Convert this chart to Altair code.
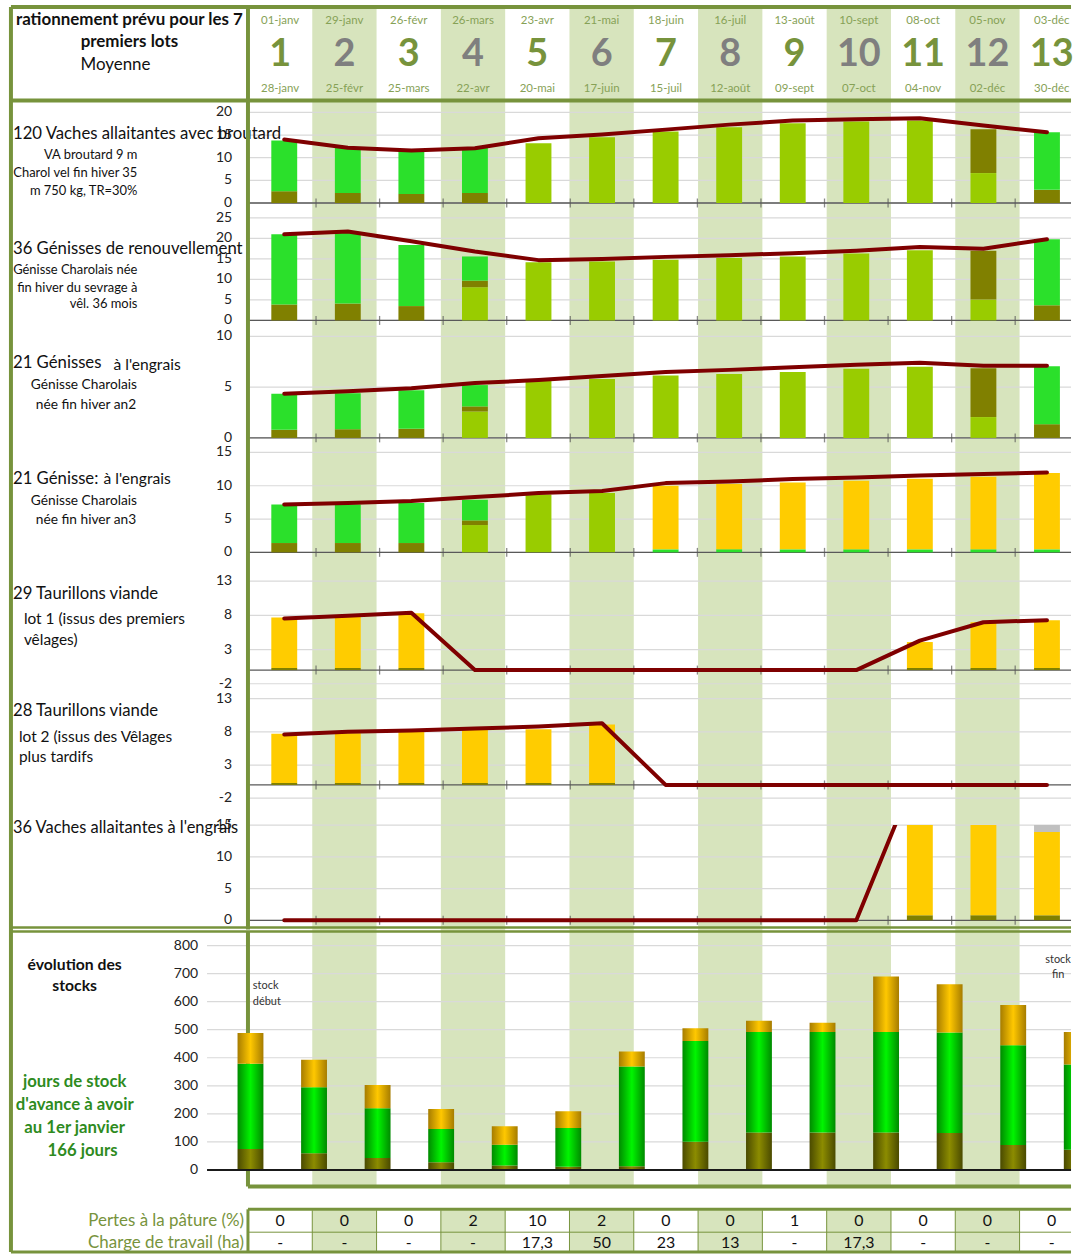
import altair as alt
import pandas as pd

# ---------------- calendar: 13 periods of 4 weeks ----------------
periodes = list(range(1, 14))
debut = ["01-janv", "29-janv", "26-févr", "26-mars", "23-avr", "21-mai", "18-juin",
         "16-juil", "13-août", "10-sept", "08-oct", "05-nov", "03-déc"]
fin = ["28-janv", "25-févr", "25-mars", "22-avr", "20-mai", "17-juin", "15-juil",
       "12-août", "09-sept", "07-oct", "04-nov", "02-déc", "30-déc"]

# ---------------- rations per batch (stack: herbe, foin, ensilage, maïs, autre) ----------------
va_herbe = [0, 0, 0, 0, 13.2, 14.5, 15.8, 16.7, 17.6, 18.0, 18.2, 6.6, 0]
va_foin = [2.6, 2.2, 2.0, 2.2, 0, 0, 0, 0, 0, 0, 0, 9.7, 2.9]
va_ens = [11.2, 10.1, 9.6, 10.1, 0, 0, 0, 0, 0, 0, 0, 0, 12.7]
va_besoin = [14.0, 12.2, 11.6, 12.1, 14.3, 15.1, 16.2, 17.3, 18.2, 18.5, 18.7, 17.1, 15.6]

gr_herbe = [0, 0, 0, 8.1, 14.2, 14.4, 14.8, 15.2, 15.6, 16.3, 17.1, 5.1, 0]
gr_foin = [3.9, 4.1, 3.5, 1.6, 0, 0, 0, 0, 0, 0, 0, 11.9, 3.7]
gr_ens = [17.1, 17.2, 14.9, 5.9, 0, 0, 0, 0, 0, 0, 0, 0, 16.1]
gr_besoin = [21.0, 21.7, 19.3, 16.8, 14.7, 15.0, 15.5, 15.9, 16.4, 17.0, 17.9, 17.5, 19.8]

g2_herbe = [0, 0, 0, 2.6, 5.6, 5.8, 6.15, 6.3, 6.5, 6.8, 7.0, 2.05, 0]
g2_foin = [0.8, 0.85, 0.9, 0.5, 0, 0, 0, 0, 0, 0, 0, 4.8, 1.35]
g2_ens = [3.55, 3.55, 3.8, 2.1, 0, 0, 0, 0, 0, 0, 0, 0, 5.7]
g2_besoin = [4.35, 4.6, 4.9, 5.4, 5.7, 6.1, 6.5, 6.7, 6.95, 7.2, 7.4, 7.1, 7.1]

g3_herbe = [0, 0, 0, 4.1, 8.7, 8.9, 0, 0, 0, 0, 0, 0, 0]
g3_foin = [1.4, 1.4, 1.4, 0.7, 0, 0, 0, 0, 0, 0, 0, 0, 0]
g3_ens = [5.8, 5.8, 6.0, 3.1, 0, 0, 0.45, 0.45, 0.45, 0.45, 0.45, 0.45, 0.45]
g3_mais = [0, 0, 0, 0, 0, 0, 9.55, 9.8, 10.05, 10.3, 10.6, 10.9, 11.45]
g3_besoin = [7.2, 7.4, 7.7, 8.3, 8.9, 9.2, 10.4, 10.65, 11.0, 11.25, 11.55, 11.75, 12.0]

t1_foin = [0.3, 0.3, 0.3, 0, 0, 0, 0, 0, 0, 0, 0.3, 0.3, 0.3]
t1_mais = [7.4, 7.5, 8.0, 0, 0, 0, 0, 0, 0, 0, 3.8, 6.7, 7.0]
t1_besoin = [7.55, 7.95, 8.4, 0, 0, 0, 0, 0, 0, 0, 4.3, 7.0, 7.3]

t2_foin = [0.3, 0.3, 0.3, 0.3, 0.3, 0.3, 0, 0, 0, 0, 0, 0, 0]
t2_mais = [7.4, 7.5, 7.7, 8.0, 8.1, 8.8, 0, 0, 0, 0, 0, 0, 0]
t2_besoin = [7.6, 8.0, 8.2, 8.5, 8.8, 9.3, 0, 0, 0, 0, 0, 0, 0]

ve_foin = [0, 0, 0, 0, 0, 0, 0, 0, 0, 0, 0.8, 0.8, 0.8]
ve_mais = [0, 0, 0, 0, 0, 0, 0, 0, 0, 0, 23.7, 24.2, 13.1]
ve_autre = [0, 0, 0, 0, 0, 0, 0, 0, 0, 0, 0, 0, 10.9]
ve_besoin = [0, 0, 0, 0, 0, 0, 0, 0, 0, 0, 24.5, 25.0, 24.8]

# ---------------- stocks (start of each period + end of year) ----------------
st_foin = [75, 60, 43, 28, 16, 12, 13, 101, 134, 134, 134, 132, 89, 72]
st_ens = [304, 235, 177, 118, 74, 138, 356, 359, 358, 358, 358, 358, 356, 304]
st_mais = [109, 98, 83, 71, 66, 59, 53, 45, 40, 33, 198, 172, 143, 116]

# ---------------- table ----------------
pertes = [0, 0, 0, 2, 10, 2, 0, 0, 1, 0, 0, 0, 0]
charge = ["-", "-", "-", "-", "17,3", "50", "23", "13", "-", "17,3", "-", "-", "-"]

# ---------------- style ----------------
FONT = "Lato"
NARROW = "Liberation Sans Narrow, Lato"
SHADE = "#D7E4BD"
FR = "#77933C"
GRID = "#D9D9D9"
AXIS = "#595959"
LINE = "#7F0000"
PARTS = ["herbe", "foin", "ensilage", "maïs", "autre"]
PART_COLORS = ["#99CC00", "#808000", "#2BE02B", "#FFCC00", "#C0C0C0"]
PART_SCALE = alt.Scale(domain=PARTS, range=PART_COLORS)

W = 868                  # plot width (px); x = 0 sits 41 px from the left edge
X1 = 12.8
X0 = X1 - W / 64.6
XZ = (0 - X0) / (X1 - X0) * W
XS = alt.Scale(domain=[X0, X1], nice=False, zero=False)
TOTAL_H = 1256
TITLE = 16.8


def XQ(field):
    return alt.X(f"{field}:Q", scale=XS, axis=None)


def one(s="x"):
    return pd.DataFrame({"t": [s]})


def txt(s, x, y, size=12, weight="normal", align="left", color="#111111", font=FONT, clip=False):
    return alt.Chart(one(s)).mark_text(
        align=align, baseline="middle", fontSize=size, fontWeight=weight,
        color=color, font=font, clip=clip
    ).encode(x=alt.value(x), y=alt.value(y), text="t:N")


def hline(x0, x1, y, color=FR, w=4):
    return alt.Chart(one()).mark_rule(color=color, strokeWidth=w).encode(
        x=alt.value(x0), x2=alt.value(x1), y=alt.value(y))


def vline(x, y0, y1, color=FR, w=4):
    return alt.Chart(one()).mark_rule(color=color, strokeWidth=w).encode(
        x=alt.value(x), y=alt.value(y0), y2=alt.value(y1))


def stack_frame(series, positions):
    rows = []
    for i, p in enumerate(positions):
        base = 0.0
        for name, vals in series:
            v = vals[i]
            if v > 0:
                rows.append({"c": p, "lo": base, "hi": base + v, "part": name})
            base += v
    return pd.DataFrame(rows)


centres = [p - 0.5 for p in periodes]


def panel(h, dom, ticks, series, besoin, texts, clip=False):
    ys = alt.Scale(domain=dom, nice=False, zero=False)
    gdf = pd.DataFrame({"v": ticks, "lab": [str(t) for t in ticks]})
    grid = alt.Chart(gdf)
    layers = [
        grid.mark_rule(color=GRID, strokeWidth=1.2).encode(
            y=alt.Y("v:Q", scale=ys, axis=None), x=alt.value(XZ), x2=alt.value(W)),
        alt.Chart(pd.DataFrame({"v": [0]})).mark_rule(color=AXIS, strokeWidth=1.3).encode(
            y=alt.Y("v:Q", scale=ys, axis=None), x=alt.value(XZ), x2=alt.value(W)),
        alt.Chart(pd.DataFrame({"b": periodes[:-1], "v": [0] * 12})).mark_tick(
            orient="vertical", size=9, thickness=1.3, color=AXIS).encode(
            x=XQ("b"), y=alt.Y("v:Q", scale=ys, axis=None)),
        alt.Chart(stack_frame(series, centres)).mark_bar(width=26, clip=clip).encode(
            x=XQ("c"), y=alt.Y("lo:Q", scale=ys, axis=None), y2="hi:Q",
            color=alt.Color("part:N", scale=PART_SCALE, legend=None)),
        alt.Chart(pd.DataFrame({"c": centres, "v": besoin})).mark_line(
            color=LINE, strokeWidth=4, strokeCap="round", strokeJoin="round", clip=clip).encode(
            x=XQ("c"), y=alt.Y("v:Q", scale=ys, axis=None)),
        grid.mark_text(align="right", baseline="middle", fontSize=14, font=FONT, color="#222").encode(
            y=alt.Y("v:Q", scale=ys, axis=None), x=alt.value(XZ - 16), text="lab:N"),
    ]
    return alt.layer(*layers, *texts).properties(width=W, height=h)


# ---------------- header ----------------
hdr = pd.DataFrame({
    "c": centres, "deb": debut, "fin": fin, "num": [str(p) for p in periodes],
    "impair": [p % 2 == 1 for p in periodes]})
shade = pd.DataFrame({"lo": [p - 1 for p in periodes if p % 2 == 0],
                      "hi": [p for p in periodes if p % 2 == 0]})

header = alt.layer(
    alt.Chart(one()).mark_rect(color="white").encode(
        x=alt.value(-XZ - 166), x2=alt.value(W), y=alt.value(0), y2=alt.value(TOTAL_H)),
    alt.Chart(shade).mark_rect(color=SHADE).encode(
        x=XQ("lo"), x2="hi", y=alt.value(5), y2=alt.value(1188)),
    alt.Chart(hdr).mark_text(fontSize=11.5, font=FONT, color="#86A156").encode(
        x=XQ("c"), y=alt.value(17), text="deb:N"),
    alt.Chart(hdr[hdr.impair]).mark_text(fontSize=38, fontWeight="bold", font=FONT, color=FR).encode(
        x=XQ("c"), y=alt.value(51), text="num:N"),
    alt.Chart(hdr[~hdr.impair]).mark_text(fontSize=38, fontWeight="bold", font=FONT, color="#7F7F7F").encode(
        x=XQ("c"), y=alt.value(51), text="num:N"),
    alt.Chart(hdr).mark_text(fontSize=11.5, font=FONT, color="#86A156").encode(
        x=XQ("c"), y=alt.value(86), text="fin:N"),
    txt("rationnement prévu pour les 7", -78, 16, 17, "bold", "center"),
    txt("premiers lots", -78, 38, 17, "bold", "center"),
    txt("Moyenne", -92, 61, 17, "normal", "center"),
).properties(width=W, height=100)

# ---------------- batch panels ----------------
p1 = panel(100, [0, 21.98], [0, 5, 10, 15, 20],
           [("herbe", va_herbe), ("foin", va_foin), ("ensilage", va_ens)], va_besoin,
           [txt("120 Vaches allaitantes avec broutard", -195, 31, TITLE),
            txt("VA broutard 9 m", -70, 52, 13, align="right"),
            txt("Charol vel fin hiver 35", -70, 70, 13, align="right"),
            txt("m 750 kg, TR=30%", -70, 88, 13, align="right")])

p2 = panel(118, [0, 28.64], [0, 5, 10, 15, 20, 25],
           [("herbe", gr_herbe), ("foin", gr_foin), ("ensilage", gr_ens)], gr_besoin,
           [txt("36 Génisses de renouvellement", -195, 46, TITLE),
            txt("Génisse Charolais née", -70, 67, 13, align="right"),
            txt("fin hiver du sevrage à", -70, 85, 13, align="right"),
            txt("vêl. 36 mois", -70, 102, 13, align="right")])

p3 = panel(118, [0, 11.57], [0, 5, 10],
           [("herbe", g2_herbe), ("foin", g2_foin), ("ensilage", g2_ens)], g2_besoin,
           [txt("21 Génisses", -195, 43, TITLE),
            txt("à l'engrais", -94, 45, 15.7),
            txt("Génisse Charolais", -177, 65, 13.8),
            txt("née fin hiver an2", -172, 85, 13.8)])

p4 = panel(115, [0, 17.19], [0, 5, 10, 15],
           [("herbe", g3_herbe), ("foin", g3_foin), ("ensilage", g3_ens), ("maïs", g3_mais)], g3_besoin,
           [txt("21 Génisse:", -195, 41, TITLE),
            txt("à l'engrais", -104, 41, 15.7),
            txt("Génisse Charolais", -177, 63, 13.8),
            txt("née fin hiver an3", -172, 83, 13.8)])

p5 = panel(132, [-2, 17.22], [-2, 3, 8, 13],
           [("foin", t1_foin), ("maïs", t1_mais)], t1_besoin,
           [txt("29 Taurillons viande", -195, 42, TITLE),
            txt("lot 1 (issus des premiers", -184, 67, 15.5),
            txt("vêlages)", -184, 88, 15.5)])

p6 = panel(142, [-6.05, 15.25], [-2, 3, 8, 13],
           [("foin", t2_foin), ("maïs", t2_mais)], t2_besoin,
           [txt("28 Taurillons viande", -195, 27, TITLE),
            txt("lot 2 (issus des Vêlages", -189, 54, 15.5),
            txt("plus tardifs", -189, 74, 15.5)])

p7 = panel(105, [-1.46, 15], [0, 5, 10, 15],
           [("foin", ve_foin), ("maïs", ve_mais), ("autre", ve_autre)], ve_besoin,
           [txt("36 Vaches allaitantes à l'engrais", -195, 3, 16.5)], clip=True)

# ---------------- stock evolution ----------------
SYS = alt.Scale(domain=[-58.5, 856.8], nice=False, zero=False)
positions = list(range(14))


def grad(edge, mid):
    return alt.LinearGradient(
        gradient="linear", x1=0, x2=1, y1=0, y2=0,
        stops=[alt.GradientStop(color=edge, offset=0), alt.GradientStop(color=mid, offset=0.5),
               alt.GradientStop(color=edge, offset=1)])


stk = stack_frame([("foin", st_foin), ("ensilage", st_ens), ("maïs", st_mais)], positions)
stk_colors = {"foin": grad("#4A4A00", "#8C8C00"), "ensilage": grad("#008A00", "#00F500"),
              "maïs": grad("#A67C00", "#FFC800")}
sticks = list(range(0, 900, 100))
sgrid = alt.Chart(pd.DataFrame({"v": sticks, "lab": [str(t) for t in sticks]}))
GREEN_TXT = "#2E8B1E"

stock = alt.layer(
    sgrid.mark_rule(color=GRID, strokeWidth=1.2).encode(
        y=alt.Y("v:Q", scale=SYS, axis=None), x=alt.value(0), x2=alt.value(W)),
    vline(XZ, 2, 258),
    *[alt.Chart(stk[stk.part == p]).mark_bar(width=26, xOffset=-2, clip=True, color=stk_colors[p]).encode(
        x=XQ("c"), y=alt.Y("lo:Q", scale=SYS, axis=None), y2="hi:Q") for p in ["foin", "ensilage", "maïs"]],
    alt.Chart(pd.DataFrame({"v": [0]})).mark_rule(color="#1A1A1A", strokeWidth=2).encode(
        y=alt.Y("v:Q", scale=SYS, axis=None), x=alt.value(0), x2=alt.value(W)),
    sgrid.mark_text(align="right", baseline="middle", fontSize=14, font=FONT, color="#222").encode(
        y=alt.Y("v:Q", scale=SYS, axis=None), x=alt.value(-9), text="lab:N"),
    txt("stock", 46, 57, 11, color="#333"),
    txt("début", 46, 73, 11, color="#333"),
    txt("stock", 855, 31, 11, align="center", color="#333", clip=True),
    txt("fin", 855, 46, 11, align="center", color="#333", clip=True),
    txt("évolution des", -133, 36, 15.8, "bold", "center"),
    txt("stocks", -133, 57, 15.8, "bold", "center"),
    txt("jours de stock", -133, 153, 16.8, "bold", "center", color=GREEN_TXT),
    txt("d'avance à avoir", -133, 176, 16.8, "bold", "center", color=GREEN_TXT),
    txt("au 1er janvier", -133, 199, 16.8, "bold", "center", color=GREEN_TXT),
    txt("166 jours", -125, 222, 16.8, "bold", "center", color=GREEN_TXT),
).properties(width=W, height=258)

# ---------------- table + frame ----------------
tab = pd.DataFrame({"c": centres, "pertes": [str(v) for v in pertes], "charge": charge})
L = -197          # outer frame, left
table = alt.layer(
    alt.Chart(shade).mark_rect(color=SHADE).encode(x=XQ("lo"), x2="hi", y=alt.value(24), y2=alt.value(66)),
    alt.Chart(pd.DataFrame({"b": periodes[:-1]})).mark_rule(color=FR, strokeWidth=1).encode(
        x=XQ("b"), y=alt.value(24), y2=alt.value(66)),
    hline(XZ, W, 46, w=1),
    alt.Chart(tab).mark_text(fontSize=16, font=NARROW, color="#111").encode(
        x=XQ("c"), y=alt.value(35), text="pertes:N"),
    alt.Chart(tab).mark_text(fontSize=16, font=NARROW, color="#111").encode(
        x=XQ("c"), y=alt.value(57), text="charge:N"),
    txt("Pertes à la pâture (%)", XZ - 4, 35, 17, align="right", color=FR, font=NARROW),
    txt("Charge de travail (ha)", XZ - 4, 57, 17, align="right", color=FR, font=NARROW),
    # frame
    hline(XZ, W, 23, w=3),
    hline(L, W, 66, w=3),
    vline(XZ, 23, 66, w=3),
    hline(XZ, W, 0, w=4),
    hline(L, W, -260, w=2.5),
    hline(L, W, -256, w=2.5),
    vline(XZ, -1091, -258, w=4),
    vline(XZ, -1184, -1091, w=4),
    hline(L, W, -1091, w=4),
    hline(L, W, -1185, w=4),
    vline(L, -1185, 66, w=4),
).properties(width=W, height=68)

chart = alt.vconcat(header, p1, p2, p3, p4, p5, p6, p7, stock, table,
                    spacing=0, bounds="flush").properties(
    padding=0, background="white"
).configure(font=FONT).configure_view(stroke="transparent")

chart.save("out.html", embed_options={"renderer": "svg", "actions": False})
